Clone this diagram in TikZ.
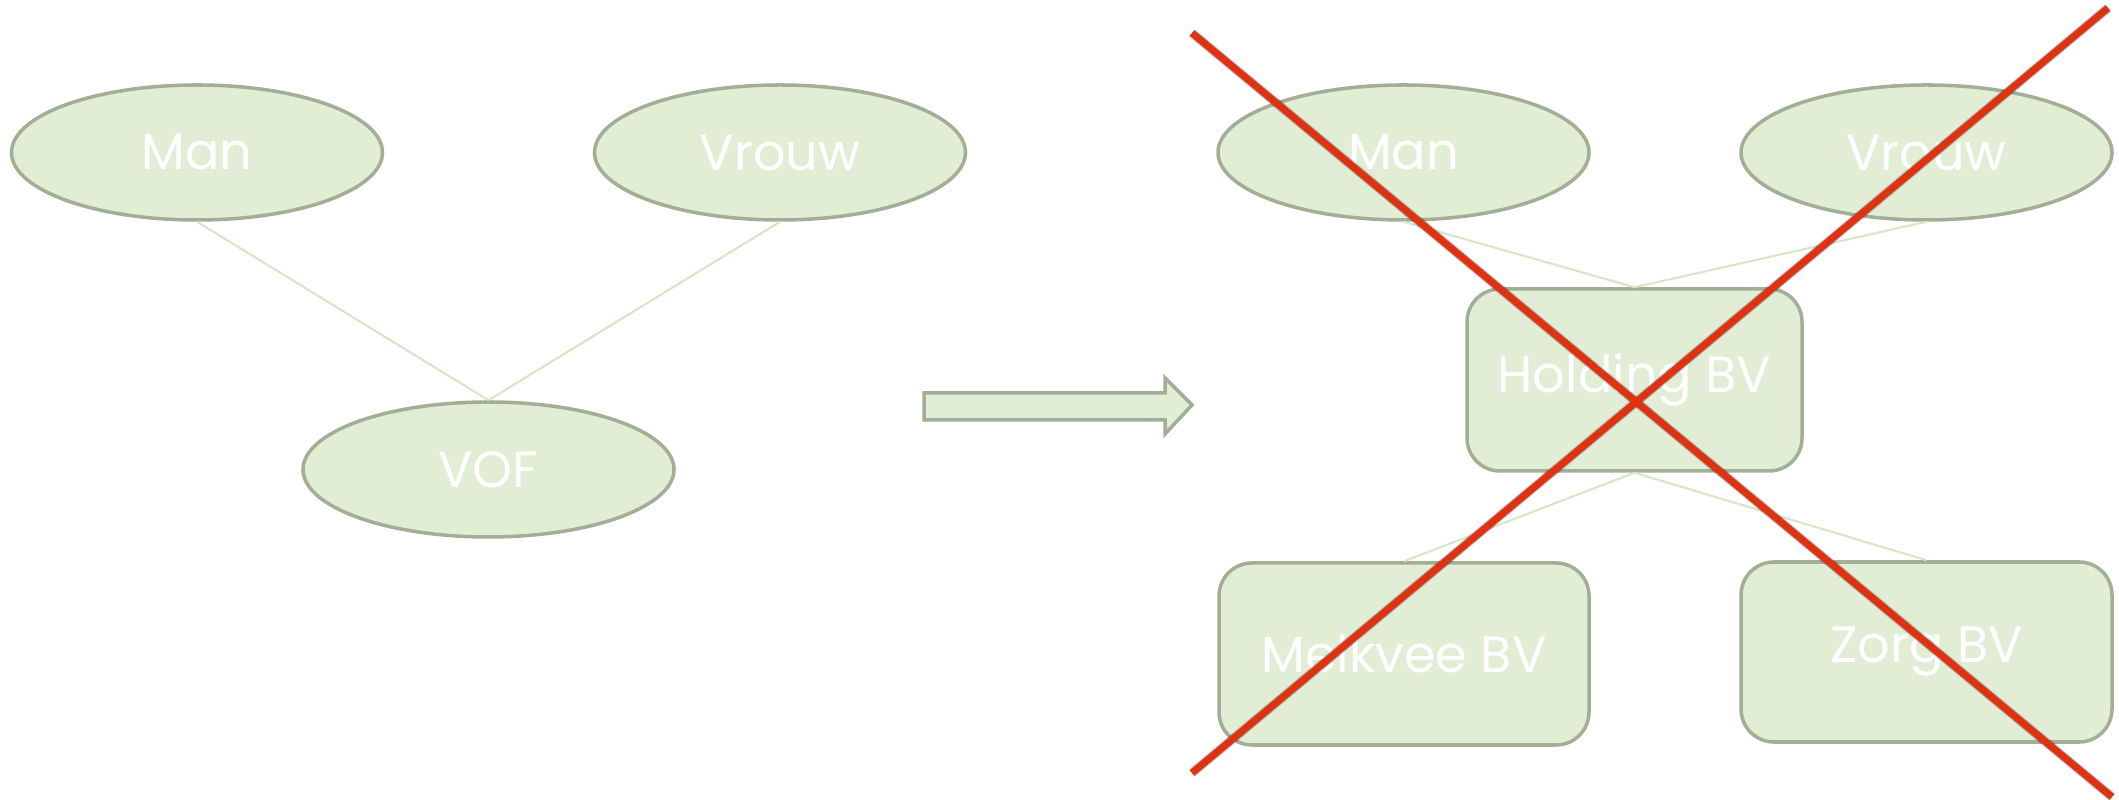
\documentclass[tikz,border=0pt]{standalone}
\usepackage{fontspec}
\setmainfont{Poppins}
\usetikzlibrary{shapes.geometric}

\definecolor{leaf}{HTML}{E2EDD6}
\definecolor{rim}{HTML}{A2AE96}
\definecolor{twig}{HTML}{D8E6C8}
\definecolor{strike}{HTML}{DF3212}

\begin{document}
\begin{tikzpicture}[
    oval/.style={ellipse,draw=rim,fill=leaf,line width=1pt,
      minimum width=3.71cm,minimum height=1.35cm,inner sep=0pt,
      text=white,font=\fontsize{14.5}{17}\selectfont},
    company/.style={rectangle,rounded corners=.33cm,draw=rim,fill=leaf,
      line width=1pt,minimum height=1.82cm,inner sep=0pt,
      text=white,font=\fontsize{14.5}{17}\selectfont},
    link/.style={twig,line width=.6pt},
    strikeout/.style={strike,line width=2pt},
    blur/.style={black,opacity=.25,line width=2.6pt}]
  \useasboundingbox (0,0) rectangle (21.19,8);
  % before
  \node[oval] (lman) at (1.97,6.475) {Man};
  \node[oval] (lvrouw) at (7.80,6.475) {Vrouw};
  \node[oval] (vof) at (4.885,3.305) {VOF};
  \draw[link] (lman.south) -- (vof.north);
  \draw[link] (lvrouw.south) -- (vof.north);
  % transition
  \draw[draw=rim,fill=leaf,line width=1pt] (9.24,4.07) -- (11.65,4.07)
    -- (11.65,4.22) -- (11.92,3.95) -- (11.65,3.66) -- (11.65,3.80)
    -- (9.24,3.80) -- cycle;
  % after
  \node[oval] (rman) at (14.035,6.475) {Man};
  \node[oval] (rvrouw) at (19.265,6.475) {Vrouw};
  \node[company,minimum width=3.35cm] (holding) at (16.345,4.20) {Holding BV};
  \node[company,minimum width=3.70cm] (melkvee) at (14.04,1.46) {Melkvee BV};
  \node[company,minimum width=3.71cm,minimum height=1.80cm] (zorg)
    at (19.265,1.48) {Zorg BV};
  \draw[link] (rman.south) -- (holding.north);
  \draw[link] (rvrouw.south) -- (holding.north);
  \draw[link] (holding.south) -- (melkvee.north);
  \draw[link] (holding.south) -- (zorg.north);
  % crossed out
  \coordinate (xa) at (11.92,7.67);
  \coordinate (xb) at (21.12,0.03);
  \coordinate (xc) at (11.92,0.27);
  \coordinate (xd) at (21.08,7.92);
  \draw[blur,shift={(.02,-.03)}] (xa) -- (xb);
  \draw[blur,shift={(.02,-.03)}] (xc) -- (xd);
  \draw[strikeout] (xa) -- (xb);
  \draw[strikeout] (xc) -- (xd);
\end{tikzpicture}
\end{document}
